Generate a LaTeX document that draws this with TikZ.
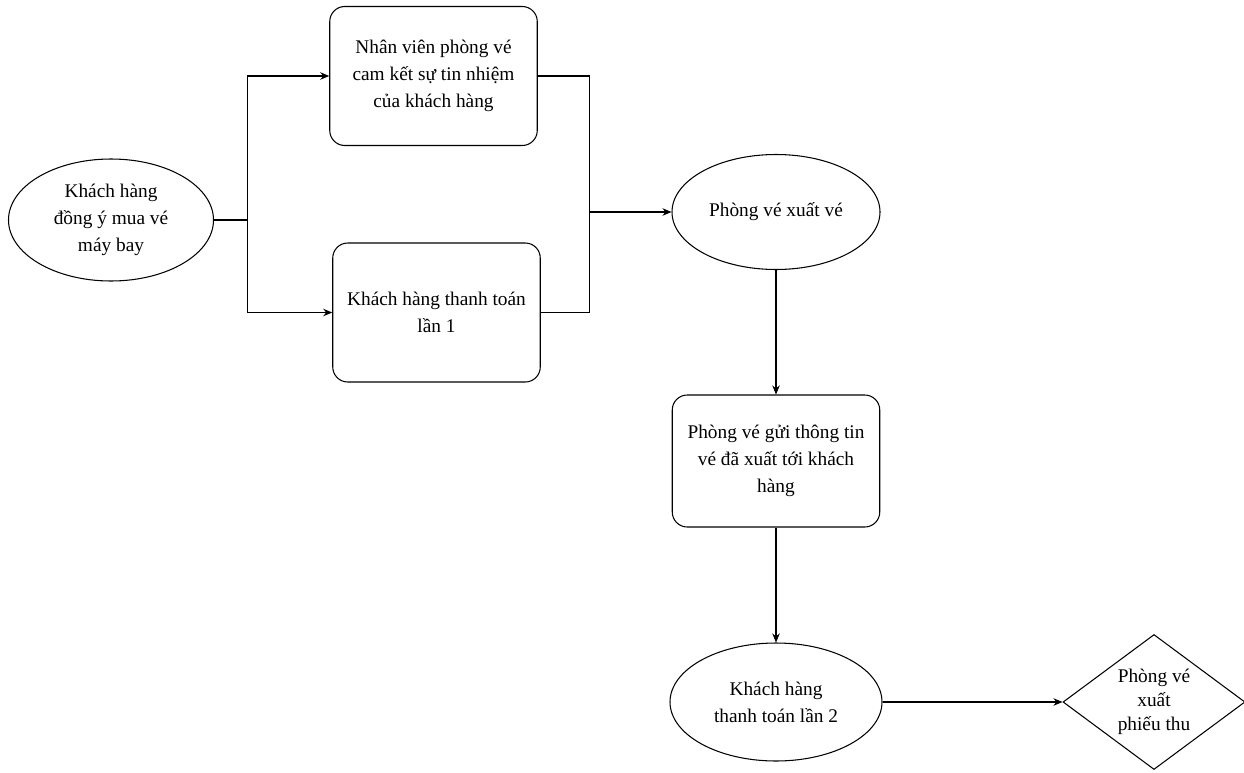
\documentclass[tikz,border=0pt]{standalone}
\usepackage{fontspec}
\setmainfont{Liberation Serif}
\usetikzlibrary{arrows.meta, positioning, shapes.geometric}

\begin{document}
\begin{tikzpicture}[
    >={Stealth[length=1.8mm, width=1.5mm]},
    line width=0.6pt,
    ovalbox/.style={draw, ellipse, align=center, inner sep=0pt,
                    font=\fontsize{11}{15.5}\selectfont},
    stepbox/.style={draw, rounded corners=0.3cm, align=center, inner sep=0pt,
                    minimum width=4.15cm, minimum height=2.78cm,
                    font=\fontsize{11}{15.5}\selectfont},
    decide/.style={draw, diamond, align=center, inner sep=0pt, aspect=1.35,
                   minimum width=3.64cm, minimum height=2.7cm,
                   font=\fontsize{11}{13.5}\selectfont}
  ]
  \useasboundingbox (0,0) rectangle (24.88,-15.44);

  % Steps of the ticket sale
  \node[ovalbox, minimum width=4.1cm, minimum height=2.44cm] (start) at (2.22,-4.40)
    {Khách hàng\\đồng ý mua vé\\máy bay};
  \node[stepbox] (nv) at (8.67,-1.52)
    {Nhân viên phòng vé\\cam kết sự tin nhiệm\\của khách hàng};
  \node[stepbox] (tt1) at (8.73,-6.25) {Khách hàng thanh toán\\lần 1};
  \node[ovalbox, minimum width=4.16cm, minimum height=2.3cm] (xuat) at (15.52,-4.24)
    {Phòng vé xuất vé};
  \node[stepbox, minimum height=2.64cm] (gui) at (15.52,-9.22)
    {Phòng vé gửi thông tin\\vé đã xuất tới khách\\hàng};
  \node[ovalbox, minimum width=4.24cm, minimum height=2.36cm] (tt2) at (15.52,-14.04)
    {Khách hàng\\thanh toán lần 2};
  \node[decide] (phieu) at (23.08,-14.04) {Phòng vé\\xuất\\phiếu thu};

  % Connectors
  \coordinate[right=0.67cm of start.east] (fork);
  \draw[->] (start.east) -- (fork) |- (nv.west);
  \draw[->] (fork) |- (tt1.west);
  \coordinate[right=1.04cm of nv.east] (join);
  \draw (nv.east) -- (join) |- (tt1.east);
  \draw[->] (join |- xuat.west) -- (xuat.west);
  \draw[->] (xuat.south) -- (gui.north);
  \draw[->] (gui.south) -- (tt2.north);
  \draw[->] (tt2.east) -- (phieu.west);
\end{tikzpicture}
\end{document}
